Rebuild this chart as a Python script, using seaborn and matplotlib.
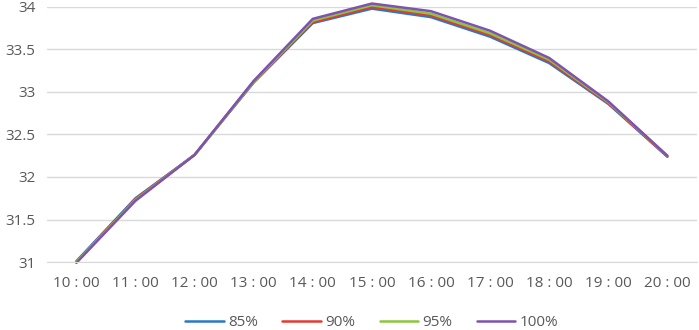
import numpy as np
import pandas as pd
import seaborn as sns
import matplotlib.pyplot as plt

# datos
horas = ['10 : 00', '11 : 00', '12 : 00', '13 : 00', '14 : 00', '15 : 00',
         '16 : 00', '17 : 00', '18 : 00', '19 : 00', '20 : 00']
s85 = [31.01, 31.75, 32.26, 33.11, 33.81, 33.98, 33.88, 33.65, 33.34, 32.86, 32.24]
s90 = [31.00, 31.74, 32.26, 33.12, 33.82, 34.00, 33.90, 33.67, 33.36, 32.87, 32.24]
s95 = [31.00, 31.73, 32.26, 33.12, 33.84, 34.02, 33.92, 33.69, 33.38, 32.88, 32.25]
s100 = [30.99, 31.72, 32.26, 33.13, 33.86, 34.04, 33.95, 33.72, 33.40, 32.89, 32.25]
series = ['85%', '90%', '95%', '100%']

df = pd.DataFrame({'hora': horas * 4,
                   'valor': s85 + s90 + s95 + s100,
                   'serie': np.repeat(series, len(horas))})
df['pos'] = np.tile(np.arange(len(horas)), 4)

sns.set_style('white')
plt.rcParams['font.family'] = ['Open Sans', 'DejaVu Sans']
gris = '#595959'

fig = plt.figure(figsize=(6.99, 3.30), dpi=100)
ax = fig.add_axes([0.067, 0.206, 0.93, 0.773])
pal = {'85%': '#2878C8', '90%': '#E8392F', '95%': '#8CC63F', '100%': '#7E52B0'}
sns.lineplot(data=df, x='pos', y='valor', hue='serie', palette=pal, linewidth=1.8, ax=ax)
for ln in ax.lines:
    ln.set_clip_on(False)

ax.set_xlim(-0.5, len(horas) - 0.5)
ax.set_ylim(31, 34)
ax.set_yticks(np.arange(31, 34.01, 0.5))
ax.set_yticklabels(['31', '31.5', '32', '32.5', '33', '33.5', '34'])
ax.set_xticks(range(len(horas)))
ax.set_xticklabels(horas)
ax.set_xticks(np.arange(-0.5, len(horas)), minor=True)
ax.tick_params(axis='x', which='major', length=0, pad=10, labelsize=11, colors=gris)
ax.tick_params(axis='x', which='minor', length=5, color='#D9D9D9', width=1)
ax.tick_params(axis='y', length=0, pad=8, labelsize=11, colors=gris)
ax.grid(axis='y', color='#D9D9D9', linewidth=1)
ax.set_axisbelow(True)
for s in ['top', 'right', 'left']:
    ax.spines[s].set_visible(False)
ax.spines['bottom'].set_color('#D9D9D9')
ax.set_xlabel('')
ax.set_ylabel('')

ax.legend(loc='upper center', bbox_to_anchor=(0.5, -0.178), ncol=4, frameon=False,
          handlelength=2.5, handletextpad=0.3, columnspacing=1.6, fontsize=11,
          labelcolor=gris, borderpad=0)

fig.savefig('out.png', dpi=100)
